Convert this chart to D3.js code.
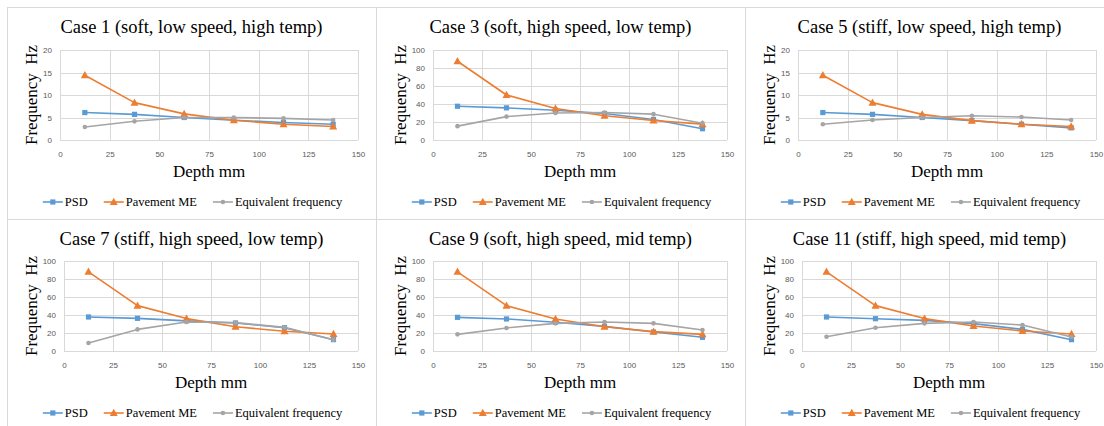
<!DOCTYPE html>
<html>
<head>
<meta charset="utf-8">
<script src="https://cdn.jsdelivr.net/npm/d3@7"></script>
<style>
  body { margin: 0; background: #fff; }
  svg { display: block; }
</style>
</head>
<body>
<svg id="chart" width="1104" height="426"></svg>
<script>
// depths (mm) where each frequency was read
var depths = [12.5, 37.5, 62.5, 87.5, 112.5, 137.5];

var titles = [
  "Case 1 (soft, low speed, high temp)",
  "Case 3 (soft, high speed, low temp)",
  "Case 5 (stiff, low speed, high temp)",
  "Case 7 (stiff, high speed, low temp)",
  "Case 9 (soft, high speed, mid temp)",
  "Case 11 (stiff, high speed, mid temp)"
];

var yMax = [20, 100, 20, 100, 100, 100];
var yTicks20 = [0, 5, 10, 15, 20];
var yTicks100 = [0, 20, 40, 60, 80, 100];
var xTicks = [0, 25, 50, 75, 100, 125, 150];

var seriesNames = ["PSD", "Pavement ME", "Equivalent frequency"];

var psd = [
  [6.1, 5.7, 5.0, 4.4, 3.9, 3.5],
  [37.5, 35.7, 33.0, 29.4, 22.8, 12.5],
  [6.1, 5.7, 5.0, 4.3, 3.5, 2.7],
  [37.8, 36.3, 33.5, 31.1, 25.9, 12.6],
  [37.4, 35.6, 32.0, 27.4, 21.1, 15.2],
  [37.8, 35.9, 34.0, 30.4, 24.0, 12.6]
];
var pavementME = [
  [14.4, 8.3, 5.8, 4.4, 3.5, 3.0],
  [87.5, 50.0, 35.0, 27.0, 21.7, 17.6],
  [14.4, 8.3, 5.7, 4.3, 3.5, 3.0],
  [88.0, 50.4, 36.0, 27.0, 21.9, 18.9],
  [88.0, 50.4, 35.6, 27.0, 21.5, 18.5],
  [88.0, 50.4, 36.0, 27.8, 22.2, 18.9]
];
var equivalent = [
  [2.9, 4.15, 5.0, 5.0, 4.8, 4.45],
  [15.4, 26.0, 30.0, 30.5, 28.7, 18.7],
  [3.5, 4.45, 5.0, 5.4, 5.1, 4.45],
  [8.9, 24.0, 32.2, 31.5, 26.3, 12.6],
  [18.5, 25.6, 30.7, 32.2, 30.7, 23.3],
  [15.9, 25.9, 30.7, 32.2, 28.9, 15.6]
];

var colors = ["#5b9bd5", "#ed7d31", "#a5a5a5"];
var serif = "Liberation Serif";
var sans = "Liberation Sans";

var svg = d3.select("#chart");

var panelW = 369, panelH = 212, originX = 7, originY = 7;

function marker(g, type, color) {
  if (type === 0) {
    g.append("rect").attr("x", -2.6).attr("y", -2.6).attr("width", 5.2).attr("height", 5.2)
      .attr("fill", color);
  } else if (type === 1) {
    g.append("path").attr("d", "M0,-4.2L4,3L-4,3Z").attr("fill", color);
  } else {
    g.append("circle").attr("r", 2.3).attr("fill", color);
  }
}

// panel borders
for (var r = 0; r < 2; r++) {
  for (var c = 0; c < 3; c++) {
    svg.append("rect")
      .attr("x", originX + c * panelW + 0.5)
      .attr("y", originY + r * panelH + 0.5)
      .attr("width", panelW)
      .attr("height", panelH)
      .attr("fill", "none")
      .attr("stroke", "#d9d9d9");
  }
}

titles.forEach(function(title, i) {
  var col = i % 3, row = Math.floor(i / 3);
  var px = originX + col * panelW, py = originY + row * panelH;
  var g = svg.append("g").attr("transform", "translate(" + px + "," + py + ")");

  var left = yMax[i] === 20 ? 53 : 57,
      right = 351,
      top = 43 - row,
      bottom = 133 - row;

  var x = d3.scaleLinear().domain([0, 150]).range([left, right]);
  var y = d3.scaleLinear().domain([0, yMax[i]]).range([bottom, top]);
  var yTicks = yMax[i] === 20 ? yTicks20 : yTicks100;

  // title
  g.append("text")
    .attr("x", panelW / 2).attr("y", 26)
    .attr("text-anchor", "middle")
    .style("font-family", serif).style("font-size", "18.5px")
    .attr("fill", "#000")
    .text(title);

  // gridlines
  g.append("g").selectAll("line.h").data(yTicks).join("line")
    .attr("x1", left).attr("x2", right)
    .attr("y1", function(d) { return Math.round(y(d)) + 0.5; })
    .attr("y2", function(d) { return Math.round(y(d)) + 0.5; })
    .attr("stroke", "#d9d9d9");
  g.append("g").selectAll("line.v").data(xTicks).join("line")
    .attr("y1", top).attr("y2", bottom)
    .attr("x1", function(d) { return Math.round(x(d)) + 0.5; })
    .attr("x2", function(d) { return Math.round(x(d)) + 0.5; })
    .attr("stroke", "#d9d9d9");

  // axes (labels only)
  var xAxis = g.append("g").attr("transform", "translate(0," + bottom + ")")
    .call(d3.axisBottom(x).tickValues(xTicks).tickSize(0).tickPadding(11));
  var yAxis = g.append("g").attr("transform", "translate(" + left + ",0)")
    .call(d3.axisLeft(y).tickValues(yTicks).tickSize(0).tickPadding(8));
  [xAxis, yAxis].forEach(function(a) {
    a.select(".domain").remove();
    a.selectAll("text").style("font-family", sans).style("font-size", "8px").attr("fill", "#595959");
  });

  // axis titles
  g.append("text")
    .attr("x", (left + right) / 2).attr("y", 170 - row)
    .attr("text-anchor", "middle")
    .style("font-family", serif).style("font-size", "17px")
    .text("Depth mm");
  g.append("text")
    .attr("transform", "translate(" + 30 + "," + ((top + bottom) / 2) + ") rotate(-90)")
    .attr("text-anchor", "middle")
    .style("font-family", serif).style("font-size", "17px")
    .style("white-space", "pre")
    .text("Frequency  Hz");

  // series
  var line = d3.line()
    .x(function(d) { return x(d[0]); })
    .y(function(d) { return y(d[1]); });

  [psd[i], pavementME[i], equivalent[i]].forEach(function(vals, s) {
    var pts = depths.map(function(d, k) { return [d, vals[k]]; });
    g.append("path")
      .attr("d", line(pts))
      .attr("fill", "none")
      .attr("stroke", colors[s])
      .attr("stroke-width", 1.6)
      .attr("stroke-linejoin", "round");
    pts.forEach(function(p) {
      marker(g.append("g").attr("transform", "translate(" + x(p[0]) + "," + y(p[1]) + ")"), s, colors[s]);
    });
  });

  // legend
  var legY = 195 - row;
  var leg = g.append("g");
  var cursor = 0;
  seriesNames.forEach(function(name, s) {
    var item = leg.append("g").attr("transform", "translate(" + cursor + ",0)");
    item.append("line").attr("x1", 0).attr("x2", 20).attr("y1", legY).attr("y2", legY)
      .attr("stroke", colors[s]).attr("stroke-width", 1.6);
    marker(item.append("g").attr("transform", "translate(10," + legY + ")"), s, colors[s]);
    var t = item.append("text")
      .attr("x", 22).attr("y", legY + 4)
      .style("font-family", serif).style("font-size", "12.5px")
      .attr("fill", "#000")
      .text(name);
    cursor += 22 + t.node().getComputedTextLength() + 16;
  });
  var legW = cursor - 16;
  leg.attr("transform", "translate(" + ((panelW - legW) / 2 + 1) + ",0)");
});
</script>
</body>
</html>
